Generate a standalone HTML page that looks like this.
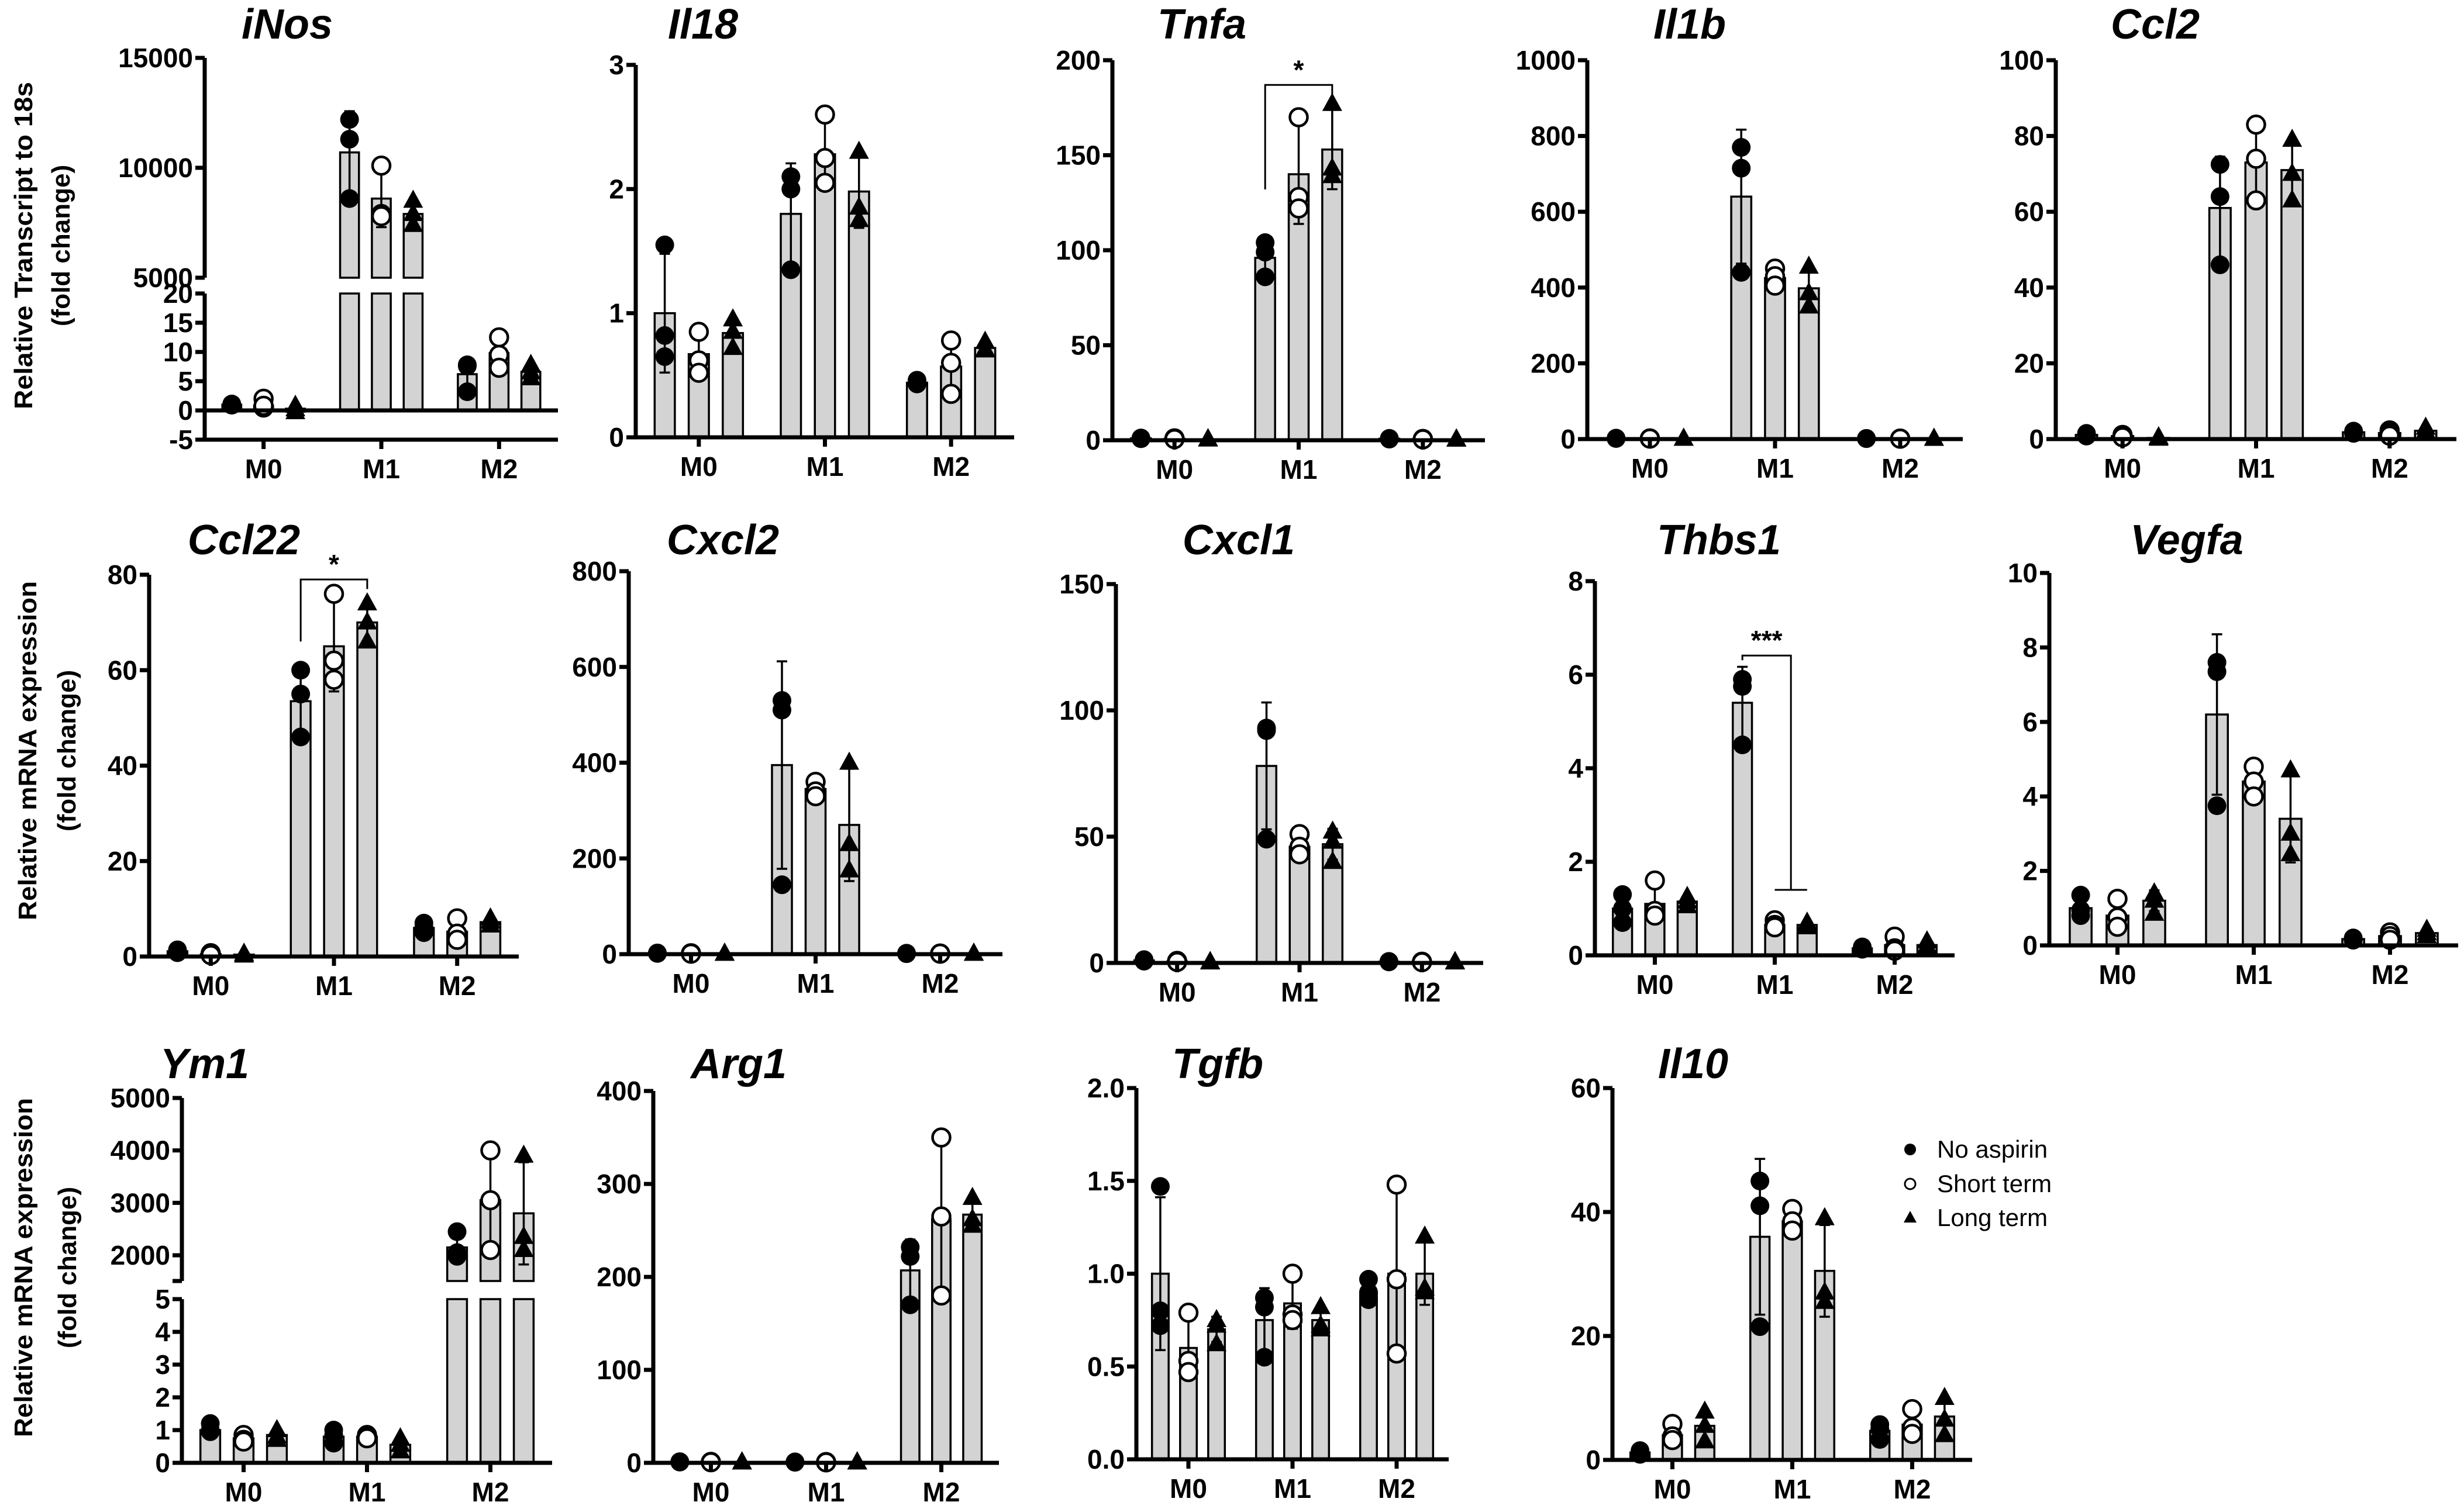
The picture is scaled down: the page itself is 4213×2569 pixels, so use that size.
<!DOCTYPE html>
<html>
<head>
<meta charset="utf-8">
<style>
html,body{margin:0;padding:0;background:#fff;}
svg{display:block;}
text{font-family:"Liberation Sans",Arial,sans-serif;}
</style>
</head>
<body>
<svg id="fig" xmlns="http://www.w3.org/2000/svg" width="4213" height="2569" viewBox="0 0 4213 2569"></svg>
<script>
// ---- data (per panel: means [group][series], points [group][series][replicate]) ----
const groups = ["M0","M1","M2"];
const seriesNames = ["No aspirin","Short term","Long term"];

const iNos_means = [[1.0,0.8,0.3],[10700,8600,7900],[6.2,9.8,6.6]];
const iNos_points = [[[1.1,0.9,1.0],[2.0,0.5,0.8],[0.8,0.2,-0.3]],[[12200,11300,8600],[10100,7900,7800],[8500,7900,7400]],[[7.8,7.6,3.2],[12.5,9.5,7.3],[7.8,6.5,5.5]]];
const iNos_ticksLow = [-5,0,5,10,15,20];
const iNos_ticksHigh = [5000,10000,15000];

const Il18_means = [[1.0,0.67,0.84],[1.8,2.28,1.98],[0.44,0.57,0.72]];
const Il18_points = [[[1.55,0.82,0.65],[0.85,0.62,0.52],[0.95,0.85,0.72]],[[2.1,2.0,1.35],[2.6,2.25,2.05],[2.3,1.85,1.75]],[[0.46,0.45,0.43],[0.78,0.6,0.35],[0.77,0.71,0.7]]];
const Il18_ticks = [0,1,2,3];

const Tnfa_means = [[1,0.8,0.5],[96,140,153],[0.8,0.6,0.4]];
const Tnfa_points = [[[1.2,1,0.8],[1,0.7,0.6],[0.6,0.5,0.4]],[[104,99,86],[170,128,122],[177,143,139]],[[1,0.8,0.6],[0.7,0.6,0.5],[0.5,0.4,0.3]]];
const Tnfa_ticks = [0,50,100,150,200];

const Il1b_means = [[2,1.5,1],[640,425,398],[1.5,1.2,0.8]];
const Il1b_points = [[[2.5,2,1.5],[1.8,1.5,1.2],[1.2,1,0.8]],[[770,715,440],[450,430,405],[455,385,350]],[[1.8,1.5,1.2],[1.4,1.2,1],[1,0.8,0.6]]];
const Il1b_ticks = [0,200,400,600,800,1000];

const Ccl2_means = [[1.1,0.8,0.3],[61,73,71],[1.8,1.6,2.2]];
const Ccl2_points = [[[1.5,1.1,0.8],[1.1,0.8,0.5],[0.5,0.3,0.1]],[[72.5,64,46],[83,74,63],[79,70,63]],[[2.1,1.8,1.5],[2.3,1.6,0.9],[3.0,2.0,1.6]]];
const Ccl2_ticks = [0,20,40,60,80,100];

const Ccl22_means = [[1.1,0.5,0.4],[53.5,65,70],[6,5.2,7.2]];
const Ccl22_points = [[[1.4,1.1,0.8],[0.7,0.5,0.3],[0.6,0.4,0.2]],[[60,55,46],[76,62,58],[74,70,66]],[[7,6.2,5],[8,4.8,3.5],[8,7.3,6.5]]];
const Ccl22_ticks = [0,20,40,60,80];

const Cxcl2_means = [[2,1.5,1],[395,345,270],[1.5,1.2,1]];
const Cxcl2_points = [[[2.5,2,1.5],[2,1.5,1],[1.2,1,0.8]],[[530,510,145],[360,340,330],[400,230,175]],[[2,1.5,1],[1.4,1.2,1],[1.2,1,0.8]]];
const Cxcl2_ticks = [0,200,400,600,800];

const Cxcl1_means = [[1,0.6,0.3],[78,46,47],[0.5,0.4,0.3]];
const Cxcl1_points = [[[1.3,1,0.7],[0.8,0.6,0.4],[0.4,0.3,0.2]],[[93,92,49],[51,46,43],[52,48,40]],[[0.6,0.5,0.4],[0.5,0.4,0.3],[0.4,0.3,0.2]]];
const Cxcl1_ticks = [0,50,100,150];

const Thbs1_means = [[1.0,1.1,1.15],[5.4,0.65,0.65],[0.15,0.22,0.22]];
const Thbs1_points = [[[1.3,1.0,0.7],[1.6,0.95,0.85],[1.25,1.15,1.05]],[[5.9,5.75,4.5],[0.75,0.65,0.6],[0.7,0.65,0.6]],[[0.18,0.15,0.13],[0.4,0.15,0.1],[0.3,0.2,0.15]]];
const Thbs1_ticks = [0,2,4,6,8];

const Vegfa_means = [[1.0,0.8,1.2],[6.2,4.4,3.4],[0.17,0.25,0.33]];
const Vegfa_points = [[[1.35,0.95,0.8],[1.25,0.75,0.5],[1.4,1.2,0.85]],[[7.6,7.35,3.75],[4.8,4.4,4.0],[4.7,3.0,2.45]],[[0.2,0.17,0.14],[0.35,0.25,0.15],[0.42,0.33,0.25]]];
const Vegfa_ticks = [0,2,4,6,8,10];

const Ym1_means = [[1.0,0.75,0.85],[0.8,0.8,0.55],[2150,3050,2800]];
const Ym1_points = [[[1.2,1.0,0.95],[0.85,0.7,0.65],[1.0,0.8,0.7]],[[1.0,0.85,0.6],[0.85,0.8,0.75],[0.75,0.55,0.35]],[[2450,2050,1980],[4000,3050,2100],[3900,2350,2100]]];
const Ym1_ticksLow = [0,1,2,3,4,5];
const Ym1_ticksHigh = [2000,3000,4000,5000];

const Arg1_means = [[1,0.8,0.5],[0.8,0.7,0.5],[207,262,267]];
const Arg1_points = [[[1.2,1,0.8],[1,0.8,0.6],[0.6,0.5,0.4]],[[1,0.8,0.6],[0.9,0.7,0.5],[0.6,0.5,0.4]],[[232,222,170],[350,265,180],[285,262,255]]];
const Arg1_ticks = [0,100,200,300,400];

const Tgfb_means = [[1.0,0.6,0.7],[0.75,0.84,0.75],[0.9,1.0,1.0]];
const Tgfb_points = [[[1.47,0.8,0.72],[0.79,0.53,0.47],[0.75,0.72,0.62]],[[0.87,0.82,0.55],[1.0,0.78,0.75],[0.82,0.72,0.7]],[[0.97,0.9,0.86],[1.48,0.97,0.57],[1.2,0.92,0.9]]];
const Tgfb_ticks = ["0.0","0.5","1.0","1.5","2.0"];

const Il10_means = [[1.2,4,5.5],[36,38.5,30.5],[4.7,5.7,7]];
const Il10_points = [[[1.5,1.2,0.9],[5.8,3.8,3.2],[7.8,5.5,3]],[[45,41,21.5],[40.5,38.5,37],[39,27,25.5]],[[5.7,5.0,3.3],[8.2,5.2,4.2],[10,6.5,4]]];
const Il10_ticks = [0,20,40,60];

// significance annotations: [group, fromSeries, toSeries, topValue, leftEndValue, rightEndValue, label]
const Tnfa_sig = [1,0,2,187,132,181,"*"];
const Ccl22_sig = [1,0,2,79,66,77,"*"];
const Thbs1_sig = [1,0,1.5,6.41,6.31,1.4,"***"];

// ---- layout (pixel geometry, not data) ----
const panels = [
 {title:"iNos",tx:491,ty:66,x0:350,x1:954,means:iNos_means,points:iNos_points,
  broken:{lo:{min:-5,max:20,yMin:752,yMax:502,ticks:iNos_ticksLow},hi:{v1:5000,y1:475,v2:15000,y2:99,bottomY:475,ticks:iNos_ticksHigh}},axisY:752,zeroY:702},
 {title:"Il18",tx:1202,ty:66,x0:1087,x1:1734,means:Il18_means,points:Il18_points,ticks:Il18_ticks,yMin:748,yMax:111},
 {title:"Tnfa",tx:2055,ty:66,x0:1902,x1:2539,means:Tnfa_means,points:Tnfa_points,ticks:Tnfa_ticks,yMin:753,yMax:103,sig:Tnfa_sig},
 {title:"Il1b",tx:2889,ty:66,x0:2714,x1:3356,means:Il1b_means,points:Il1b_points,ticks:Il1b_ticks,yMin:751,yMax:103},
 {title:"Ccl2",tx:3685,ty:66,x0:3515,x1:4200,means:Ccl2_means,points:Ccl2_points,ticks:Ccl2_ticks,yMin:751,yMax:103},
 {title:"Ccl22",tx:417,ty:948,x0:255,x1:887,means:Ccl22_means,points:Ccl22_points,ticks:Ccl22_ticks,yMin:1636,yMax:983,sig:Ccl22_sig},
 {title:"Cxcl2",tx:1236,ty:948,x0:1075,x1:1714,means:Cxcl2_means,points:Cxcl2_points,ticks:Cxcl2_ticks,yMin:1632,yMax:977},
 {title:"Cxcl1",tx:2118,ty:948,x0:1908,x1:2536,means:Cxcl1_means,points:Cxcl1_points,ticks:Cxcl1_ticks,yMin:1647,yMax:999},
 {title:"Thbs1",tx:2939,ty:948,x0:2727,x1:3342,means:Thbs1_means,points:Thbs1_points,ticks:Thbs1_ticks,yMin:1634,yMax:994,sig:Thbs1_sig,sigBar:true},
 {title:"Vegfa",tx:3739,ty:948,x0:3504,x1:4203,means:Vegfa_means,points:Vegfa_points,ticks:Vegfa_ticks,yMin:1617,yMax:980},
 {title:"Ym1",tx:350,ty:1844,x0:311,x1:944,means:Ym1_means,points:Ym1_points,
  broken:{lo:{min:0,max:5,yMin:2502,yMax:2222,ticks:Ym1_ticksLow},hi:{v1:2000,y1:2147,v2:5000,y2:1878,bottomY:2191,ticks:Ym1_ticksHigh}},axisY:2502,zeroY:2502},
 {title:"Arg1",tx:1263,ty:1844,x0:1117,x1:1708,means:Arg1_means,points:Arg1_points,ticks:Arg1_ticks,yMin:2502,yMax:1866},
 {title:"Tgfb",tx:2082,ty:1844,x0:1943,x1:2477,means:Tgfb_means,points:Tgfb_points,ticks:Tgfb_ticks,yMin:2496,yMax:1861},
 {title:"Il10",tx:2895,ty:1844,x0:2757,x1:3372,means:Il10_means,points:Il10_points,ticks:Il10_ticks,yMin:2497,yMax:1861}
];

const NS = "http://www.w3.org/2000/svg";
const svg = document.getElementById("fig");
function mk(tag, attrs, parent){
  const e = document.createElementNS(NS, tag);
  for (const k in attrs) e.setAttribute(k, attrs[k]);
  (parent||svg).appendChild(e);
  return e;
}
function mean(a){return a.reduce((s,v)=>s+v,0)/a.length;}
function sd(a){const m=mean(a);return Math.sqrt(a.reduce((s,v)=>s+(v-m)*(v-m),0)/(a.length-1));}

function marker(g, s, cx, cy){
  let e;
  if (s===0){ e = mk("circle",{cx:cx,cy:cy,r:16,fill:"#000"},g); }
  else if (s===1){ e = mk("circle",{cx:cx,cy:cy,r:15,fill:"#fff",stroke:"#000","stroke-width":4.5},g); }
  else { e = mk("polygon",{points:`${cx},${cy-19} ${cx+17},${cy+12} ${cx-17},${cy+12}`,fill:"#000"},g); }
  return e;
}

panels.forEach((p, pi) => {
  const g = mk("g",{});
  
  
  const W = p.x1 - p.x0, band = W/3;
  const gx = i => p.x0 + band*(i+0.5);
  const sx = (i,s) => gx(i) + (s-1)*band*0.27;
  const bw = band*0.16;
  let y, baseY;
  if (p.broken){
    const lo=p.broken.lo, hi=p.broken.hi;
    const ly = v => lo.yMin + (v-lo.min)*(lo.yMax-lo.yMin)/(lo.max-lo.min);
    const uy = v => hi.y1 + (v-hi.v1)*(hi.y2-hi.y1)/(hi.v2-hi.v1);
    y = v => v<=lo.max ? ly(v) : uy(v);
    baseY = ly(0);
  } else {
    const tmax = parseFloat(p.ticks[p.ticks.length-1]);
    y = v => p.yMin + v*(p.yMax-p.yMin)/tmax;
    baseY = p.yMin;
  }
  // title
  const t = mk("text",{x:p.tx,y:p.ty,"text-anchor":"middle","font-size":72,"font-weight":"bold","font-style":"italic"},g);
  t.textContent = p.title;
  
  
  // bars
  p.means.forEach((gm, i) => gm.forEach((m, s) => {
    const x = sx(i,s) - bw/2;
    if (p.broken && m > p.broken.lo.max){
      const r1 = mk("rect",{x:x,y:p.broken.lo.yMax,width:bw,height:baseY-p.broken.lo.yMax,fill:"#d3d3d3",stroke:"#000","stroke-width":3.5},g);
      
      
      const r2 = mk("rect",{x:x,y:y(m),width:bw,height:p.broken.hi.bottomY-y(m),fill:"#d3d3d3",stroke:"#000","stroke-width":3.5},g);
      
      
    } else {
      const top = Math.min(y(m), baseY), h = Math.abs(baseY - y(m));
      const r = mk("rect",{x:x,y:top,width:bw,height:h,fill:"#d3d3d3",stroke:"#000","stroke-width":3.5},g);
      
      
    }
  }));
  // error bars
  p.means.forEach((gm, i) => gm.forEach((m, s) => {
    const d = sd(p.points[i][s]);
    const cx = sx(i,s), yt = y(m+d), yb = y(Math.max(m-d, p.broken ? p.broken.lo.min : 0));
    const eg = mk("g",{stroke:"#000","stroke-width":3.5},g);
    
    
    mk("line",{x1:cx,y1:yt,x2:cx,y2:yb},eg);
    mk("line",{x1:cx-9,y1:yt,x2:cx+9,y2:yt},eg);
    mk("line",{x1:cx-9,y1:yb,x2:cx+9,y2:yb},eg);
  }));
  // points
  p.points.forEach((gp, i) => gp.forEach((arr, s) => arr.forEach(v => {
    const e = marker(g, s, sx(i,s), y(v));
    
    
  })));
  // axes
  const ax = mk("g",{stroke:"#000","stroke-width":7,fill:"none"},g);
  
  
  const axisY = p.broken ? p.axisY : p.yMin;
  mk("line",{x1:p.x0-3,y1:axisY,x2:p.x1,y2:axisY},ax);
  if (p.broken){
    mk("line",{x1:p.x0,y1:p.broken.lo.yMax,x2:p.x0,y2:p.broken.lo.yMin},ax);
    mk("line",{x1:p.x0,y1:p.broken.hi.y2,x2:p.x0,y2:p.broken.hi.bottomY},ax);
    if (p.zeroY !== p.axisY) mk("line",{x1:p.x0,y1:p.zeroY,x2:p.x1,y2:p.zeroY},ax);
    mk("line",{x1:p.x0-16,y1:p.broken.hi.bottomY,x2:p.x0,y2:p.broken.hi.bottomY},ax);
  } else {
    mk("line",{x1:p.x0,y1:p.yMax,x2:p.x0,y2:p.yMin},ax);
  }
  // y ticks
  const ytick = (v, lab) => {
    const yy = y(v);
    mk("line",{x1:p.x0-16,y1:yy,x2:p.x0,y2:yy},ax);
    const tl = mk("text",{x:p.x0-20,y:yy+16,"text-anchor":"end","font-size":46,"font-weight":"bold"},g);
    tl.textContent = lab;
    
    
  };
  if (p.broken){
    p.broken.lo.ticks.forEach(v => ytick(v, String(v)));
    p.broken.hi.ticks.forEach(v => ytick(v, String(v)));
  } else {
    p.ticks.forEach(v => ytick(parseFloat(v), String(v)));
  }
  // x ticks + labels
  groups.forEach((gname, i) => {
    mk("line",{x1:gx(i),y1:axisY,x2:gx(i),y2:axisY+16},ax);
    const xl = mk("text",{x:gx(i),y:axisY+66,"text-anchor":"middle","font-size":46,"font-weight":"bold"},g);
    xl.textContent = gname;
    
    
  });
  // significance bracket
  if (p.sig){
    const [gi, fs, ts, top, le, re, lab] = p.sig;
    const xa = sx(gi, fs), xb = sx(gi, ts);
    const sg = mk("g",{stroke:"#000","stroke-width":3,fill:"none"},g);
    
    
    mk("polyline",{points:`${xa},${y(le)} ${xa},${y(top)} ${xb},${y(top)} ${xb},${y(re)}`},sg);
    if (p.sigBar) mk("line",{x1:sx(gi,1),y1:y(re),x2:sx(gi,2),y2:y(re)},sg);
    const st = mk("text",{x:(xa+xb)/2,y:y(top)-10,"text-anchor":"middle","font-size":46,"font-weight":"bold"},g);
    st.textContent = lab;
    
    
  }
});

// y-axis titles
const yTitles = [
  {l1:"Relative Transcript to 18s", x1:40, x2:104, cy:420, len:560},
  {l1:"Relative mRNA expression", x1:47, x2:114, cy:1284, len:580},
  {l1:"Relative mRNA expression", x1:40, x2:115, cy:2168, len:580}
];
yTitles.forEach(t => {
  const a = mk("text",{x:0,y:0,transform:`translate(${t.x1+15},${t.cy}) rotate(-90)`,"text-anchor":"middle","font-size":44,"font-weight":"bold",textLength:t.len,lengthAdjust:"spacingAndGlyphs"});
  a.textContent = t.l1;
  
  
  const b = mk("text",{x:0,y:0,transform:`translate(${t.x2+15},${t.cy}) rotate(-90)`,"text-anchor":"middle","font-size":44,"font-weight":"bold"});
  b.textContent = "(fold change)";
  
  
});

// legend
const lg = mk("g",{});


const legendY = [1966, 2025, 2083];
seriesNames.forEach((n, s) => {
  const e = mk("g",{},lg);
  
  
  const cy = legendY[s];
  if (s===0) mk("circle",{cx:3266,cy:cy,r:10,fill:"#000"},e);
  else if (s===1) mk("circle",{cx:3266,cy:cy,r:9,fill:"#fff",stroke:"#000","stroke-width":3},e);
  else mk("polygon",{points:`3266,${cy-12} 3277,${cy+8} 3255,${cy+8}`,fill:"#000"},e);
  const tx = mk("text",{x:3312,y:cy+14,"font-size":42},e);
  tx.textContent = n;
});
</script>
</body>
</html>
